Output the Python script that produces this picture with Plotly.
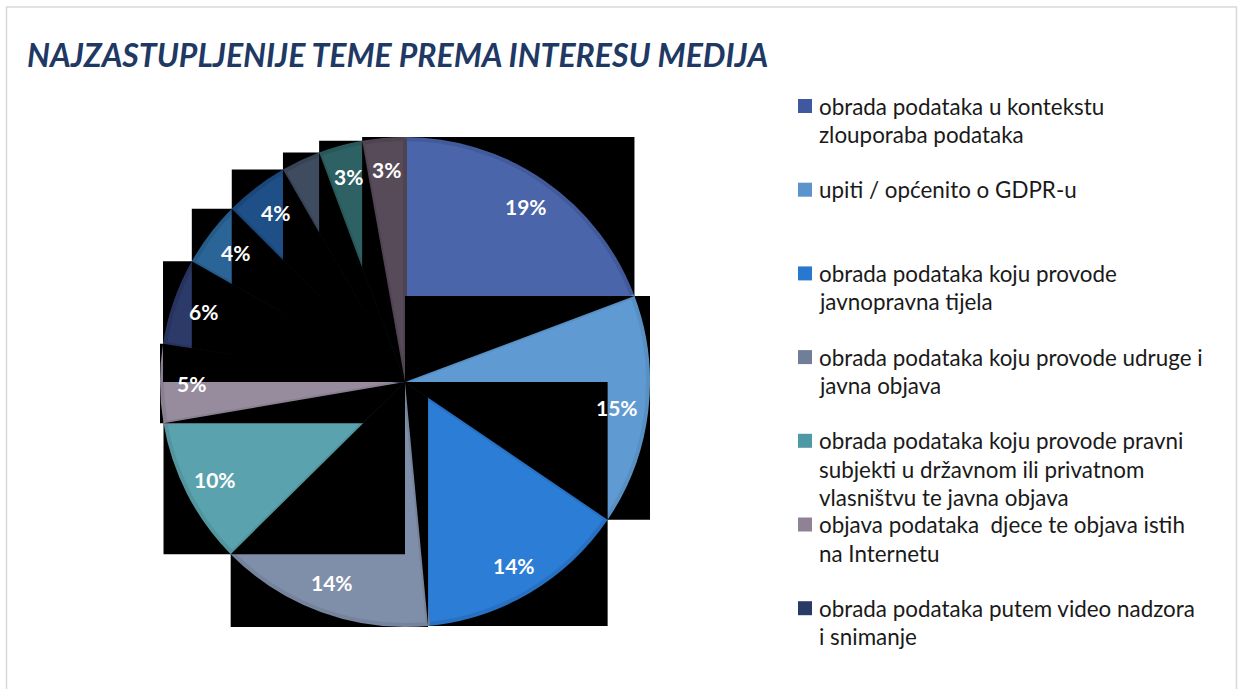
import numpy as np
import plotly.graph_objects as go

# ---------------- data ----------------
title_text = "NAJZASTUPLJENIJE TEME PREMA INTERESU MEDIJA"

slice_values = [19.3, 15.2, 14.0, 14.1, 9.7, 5.2, 5.7, 4.3, 4.2, 2.6, 2.9, 2.8]
slice_labels = ["19%", "15%", "14%", "14%", "10%", "5%", "6%", "4%", "4%", "", "3%", "3%"]

slice_colors = ["#4a65a9", "#5f9bd2", "#2b7dd5", "#7f8ea9", "#5aa3ae", "#978c9e",
                "#2c3a69", "#2b6597", "#1e4f86", "#3f4b5f", "#2e6164", "#574b59"]
slice_edge_colors = ["#425a9a", "#5890c4", "#2770c2", "#75839c", "#52959f", "#8b8091",
                     "#27335d", "#265a87", "#1b4678", "#384355", "#29585a", "#4e4350"]

legend_names = [
    "obrada podataka u kontekstu<br>zlouporaba podataka",
    "upiti / općenito o GDPR-u",
    "obrada podataka koju provode<br>javnopravna tijela",
    "obrada podataka koju provode udruge i<br>javna objava",
    "obrada podataka koju provode pravni<br>subjekti u državnom ili privatnom<br>vlasništvu te javna objava",
    "objava podataka  djece te objava istih<br>na Internetu",
    "obrada podataka putem video nadzora<br>i snimanje",
]
legend_colors = ["#3f58a0", "#5b93cc", "#2878d0", "#6f7f99", "#4e99a4", "#8e8294", "#2a3a66"]

# ---------------- layout constants (pixels) ----------------
W, H = 1238, 689
CX, CY, R = 405.0, 382.0, 245.0
EDGE_W = 4
R_PIE = R - EDGE_W / 2


def px(x):
    return x / W


def py(y):
    return 1 - y / H


# angles (clockwise from 12 o'clock) derived from the values
vals = np.array(slice_values, dtype=float)
cum = np.concatenate([[0.0], np.cumsum(vals)]) / vals.sum()
theta0 = cum[:-1] * 2 * np.pi
theta1 = cum[1:] * 2 * np.pi


def wedge_poly(a0, a1, r=R, n=160):
    t = np.linspace(a0, a1, n)
    pts = [(CX, CY)] + [(CX + r * np.sin(a), CY - r * np.cos(a)) for a in t]
    return pts


def clip_rect(poly, x0, y0, x1, y1):
    def clip(poly, inside, inter):
        out = []
        n = len(poly)
        for i in range(n):
            cur, prev = poly[i], poly[i - 1]
            if inside(cur):
                if not inside(prev):
                    out.append(inter(prev, cur))
                out.append(cur)
            elif inside(prev):
                out.append(inter(prev, cur))
        return out

    def ix(c):
        return lambda p, q: (c, p[1] + (q[1] - p[1]) * (c - p[0]) / (q[0] - p[0]))

    def iy(c):
        return lambda p, q: (p[0] + (q[0] - p[0]) * (c - p[1]) / (q[1] - p[1]), c)

    poly = clip(poly, lambda p: p[0] >= x0, ix(x0))
    if poly:
        poly = clip(poly, lambda p: p[0] <= x1, ix(x1))
    if poly:
        poly = clip(poly, lambda p: p[1] >= y0, iy(y0))
    if poly:
        poly = clip(poly, lambda p: p[1] <= y1, iy(y1))
    return poly


def area(poly):
    if len(poly) < 3:
        return 0.0
    a = 0.0
    for i in range(len(poly)):
        x1, y1 = poly[i - 1]
        x2, y2 = poly[i]
        a += x1 * y2 - x2 * y1
    return abs(a) / 2


def to_path(poly):
    s = "M " + " L ".join(f"{px(x):.5f},{py(y):.5f}" for x, y in poly) + " Z"
    return s


wedges = [wedge_poly(a, b) for a, b in zip(theta0, theta1)]
boxes = []
for w in wedges:
    xs = [p[0] for p in w]
    ys = [p[1] for p in w]
    boxes.append((min(xs), min(ys), max(xs), max(ys)))

shapes = []
# outer frame
shapes.append(dict(type="rect", xref="paper", yref="paper",
                   x0=px(6.5), x1=px(1236.5), y0=py(700), y1=py(7),
                   line=dict(color="#d9d9d9", width=1.5), fillcolor="rgba(0,0,0,0)",
                   layer="below"))
# black bounding boxes (rendering artefact of the original)
for (x0, y0, x1, y1) in boxes:
    shapes.append(dict(type="rect", xref="paper", yref="paper",
                       x0=px(x0), x1=px(x1), y0=py(y1), y1=py(y0),
                       line=dict(width=0), fillcolor="black", layer="below"))
# later boxes overpaint earlier slices
for j in range(len(wedges)):
    for k in range(j + 1, len(wedges)):
        c = clip_rect(wedges[j], *boxes[k])
        if area(c) > 0.5:
            shapes.append(dict(type="path", xref="paper", yref="paper",
                               path=to_path(c), fillcolor="black",
                               line=dict(width=0), layer="above"))

# legend (manual, only visible entries of the original)
LEG_Y0, LEG_DY, LINE_DY = 106.0, 83.7, 28.5
annotations = []
for i, (name, col) in enumerate(zip(legend_names, legend_colors)):
    yc = LEG_Y0 + i * LEG_DY
    shapes.append(dict(type="rect", xref="paper", yref="paper",
                       x0=px(798), x1=px(812), y0=py(yc + 7), y1=py(yc - 7),
                       fillcolor=col, line=dict(width=0), layer="above"))
    for li, line in enumerate(name.split("<br>")):
        annotations.append(dict(x=px(817), y=py(yc + li * LINE_DY), xref="paper", yref="paper",
                                text=line, showarrow=False, xanchor="left", yanchor="middle",
                                font=dict(family="Lato", size=22.4, color="#1a1a1a")))

# data labels
for lab, a, b in zip(slice_labels, theta0, theta1):
    if not lab:
        continue
    m = (a + b) / 2
    rr = 0.87 * R
    annotations.append(dict(x=px(CX + rr * np.sin(m)), y=py(CY - rr * np.cos(m)),
                            xref="paper", yref="paper", text=lab, showarrow=False,
                            xanchor="center", yanchor="middle",
                            font=dict(family="Lato", size=21, color="white", weight="bold")))

fig = go.Figure(go.Pie(
    values=slice_values,
    sort=False,
    direction="clockwise",
    rotation=0,
    textinfo="none",
    marker=dict(colors=slice_colors, line=dict(color=slice_edge_colors, width=EDGE_W)),
    domain=dict(x=[px(CX - R_PIE), px(CX + R_PIE)], y=[py(CY + R_PIE), py(CY - R_PIE)]),
    showlegend=False,
    hoverinfo="value+percent",
))

fig.update_layout(
    width=W, height=H,
    margin=dict(l=0, r=0, t=0, b=0),
    paper_bgcolor="white",
    plot_bgcolor="white",
    title=dict(text=title_text, x=px(27), xanchor="left", y=py(56), yanchor="middle",
               xref="paper", yref="container",
               font=dict(family="Lato", size=32, color="#203864", weight="bold", style="italic")),
    shapes=shapes,
    annotations=annotations,
    showlegend=False,
)

fig.write_html("out.html", config={"displayModeBar": False},
               post_script="document.body.style.margin='0';document.body.style.overflow='hidden';")
